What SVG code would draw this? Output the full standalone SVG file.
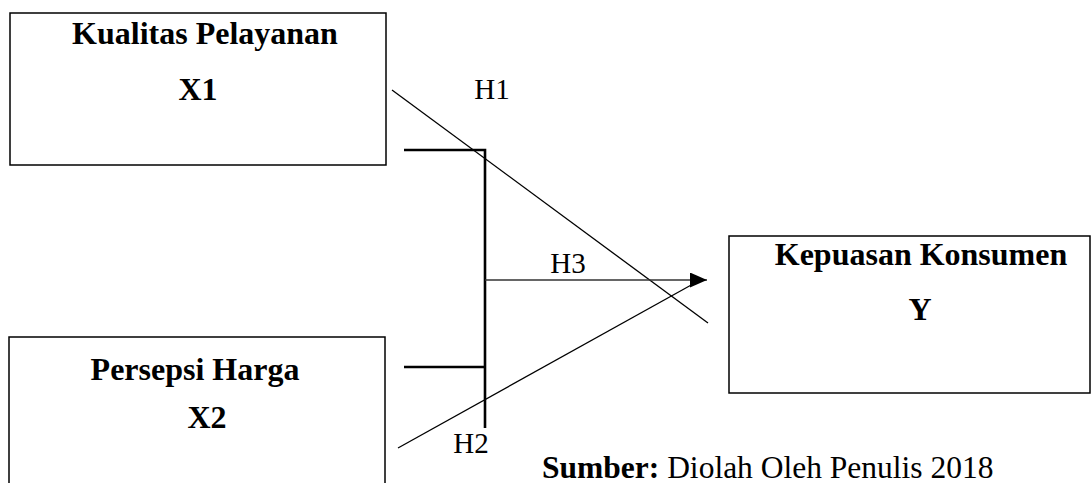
<svg xmlns="http://www.w3.org/2000/svg" width="1091" height="483" viewBox="0 0 1091 483">
<style>
.box{fill:#fff;stroke:#000;stroke-width:1.5}
.t{font-family:"Liberation Serif","Times New Roman",serif;font-size:32px;fill:#000;text-anchor:middle}
.b{font-weight:bold}
.h{font-family:"Liberation Serif","Times New Roman",serif;font-size:29px;fill:#000;text-anchor:middle}
.s{font-family:"Liberation Serif","Times New Roman",serif;font-size:31.5px;fill:#000}
.diag{stroke:#000;stroke-width:1.3;fill:none}
.brk{stroke:#000;stroke-width:2.6;fill:none}
</style>
<defs>
<marker id="arr" markerUnits="userSpaceOnUse" markerWidth="17" markerHeight="15" refX="17" refY="7.5" orient="auto">
<path d="M0,0 L17,7.5 L0,15 Z" fill="#000"/>
</marker>
</defs>
<rect width="1091" height="483" fill="#fff"/>
<g id="node-x1">
<rect class="box" x="10" y="13" width="376" height="152"/>
<text class="t b" x="205" y="44">Kualitas Pelayanan</text>
<text class="t b" x="198" y="100">X1</text>
</g>
<g id="node-x2">
<rect class="box" x="9" y="337" width="376" height="160"/>
<text class="t b" x="195" y="380">Persepsi Harga</text>
<text class="t b" x="207" y="428">X2</text>
</g>
<g id="node-y">
<rect class="box" x="729" y="236" width="361" height="157"/>
<text class="t b" x="921" y="265">Kepuasan Konsumen</text>
<text class="t b" x="920" y="320">Y</text>
</g>
<g id="connectors">
<line class="diag" x1="392" y1="90" x2="708" y2="323"/>
<line class="diag" x1="398" y1="448" x2="693" y2="284"/>
<polyline class="brk" points="404,150 485,150 485,428"/>
<line class="brk" x1="404" y1="367" x2="485" y2="367"/>
<line x1="485" y1="280" x2="707" y2="280" stroke="#333" stroke-width="1.6" marker-end="url(#arr)"/>
</g>
<g id="labels">
<text class="h" x="492" y="99">H1</text>
<text class="h" x="568" y="273">H3</text>
<text class="h" x="471" y="453">H2</text>
<text class="s" x="542" y="478"><tspan font-weight="bold">Sumber:</tspan> Diolah Oleh Penulis 2018</text>
</g>
</svg>
